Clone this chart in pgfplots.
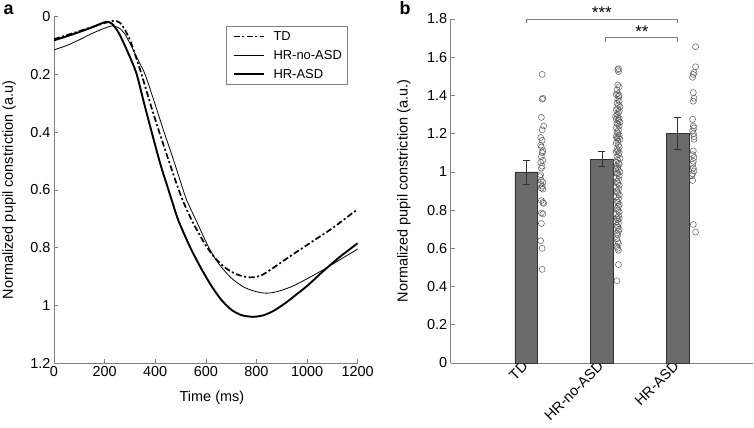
\documentclass[border=0pt]{standalone}
\usepackage{fontspec}
\setmainfont{Liberation Sans}
\usepackage{pgfplots}
\pgfplotsset{compat=1.18}
\definecolor{axgray}{RGB}{128,128,128}
\definecolor{barfill}{RGB}{107,107,107}
\definecolor{baredge}{RGB}{50,50,50}
\definecolor{ptedge}{RGB}{90,90,90}
\pgfplotsset{
  common/.style={
    scale only axis,
    axis x line*=bottom, axis y line*=left,
    axis line style={axgray, line width=0.6bp, -},
    tick align=inside,
    major tick length=4bp,
    tick style={axgray, line width=0.6bp},
    /pgf/number format/assume math mode=true,
    /pgf/number format/set thousands separator={},
    ticklabel style={font=\fontsize{14.5}{16}\selectfont},
    label style={font=\fontsize{14.5}{16}\selectfont},
  }
}
\begin{document}
\begin{tikzpicture}
\useasboundingbox (0,0) rectangle (754bp,428bp);
\node[font=\fontsize{18}{20}\selectfont\bfseries, anchor=base west] at (0bp,413bp) {a};
\node[font=\fontsize{18}{20}\selectfont\bfseries, anchor=base west] at (396bp,413bp) {b};
% ---------------- panel a ----------------
\begin{axis}[common,
  at={(54bp,65bp)}, anchor=south west,
  width=303.7bp, height=346.3bp,
  xmin=0, xmax=1200, ymin=0, ymax=1.2,
  y dir=reverse,
  xtick={0,200,400,600,800,1000,1200},
  ytick={0,0.2,0.4,0.6,0.8,1,1.2},
  yticklabels={0,0.2,0.4,0.6,0.8,1,1.2},
  xlabel={Time (ms)},
  xlabel style={at={(axis description cs:0.52,-0.101)}, anchor=center},
  ylabel={Normalized pupil constriction (a.u)},
  ylabel style={at={(axis description cs:-0.148,0.5)}, anchor=center},
  legend style={at={(0.965,0.973)}, anchor=north east, draw=axgray,
    font=\fontsize{13}{15}\selectfont, row sep=4.5bp, inner sep=3bp},
  legend cell align=left,
]
\addplot[black, line width=1.7bp, dash pattern=on 6bp off 2.5bp on 2bp off 2.5bp, smooth, tension=0.45,
  legend image code/.code={\path (-3bp,0bp) (37bp,0bp); \draw[black, line width=1.7bp, dash pattern=on 6bp off 2.5bp on 2bp off 2.5bp] (0bp,0bp) -- (30bp,0bp);}] coordinates {
(0,0.078) (50,0.064) (100,0.050) (150,0.036) (200,0.022) (238,0.014) (262,0.022) (282,0.048) (302,0.085) (322,0.135) (346,0.200) (380,0.300) (416,0.400) (450,0.490) (480,0.568) (508,0.635) (544,0.705) (575,0.755) (603,0.797) (640,0.840) (680,0.872) (720,0.892) (760,0.902) (790,0.903) (820,0.896) (850,0.880) (900,0.850) (950,0.820) (1000,0.791) (1050,0.762) (1100,0.733) (1150,0.700) (1200,0.667)
};
\addlegendentry{TD}
\addplot[black, line width=0.8bp, smooth, tension=0.45,
  legend image code/.code={\path (-3bp,0bp) (37bp,0bp); \draw[black, line width=0.8bp] (0bp,0bp) -- (30bp,0bp);}] coordinates {
(0,0.115) (50,0.100) (100,0.080) (150,0.058) (200,0.040) (228,0.032) (255,0.038) (280,0.060) (310,0.110) (335,0.155) (360,0.200) (400,0.305) (435,0.400) (470,0.490) (500,0.572) (524,0.635) (561,0.705) (610,0.797) (650,0.855) (700,0.905) (750,0.937) (800,0.953) (840,0.958) (880,0.953) (940,0.935) (1000,0.908) (1066,0.876) (1130,0.842) (1200,0.805)
};
\addlegendentry{HR-no-ASD}
\addplot[black, line width=1.9bp, smooth, tension=0.45,
  legend image code/.code={\path (-3bp,0bp) (37bp,0bp); \draw[black, line width=1.9bp] (0bp,0bp) -- (30bp,0bp);}] coordinates {
(0,0.082) (50,0.068) (100,0.053) (150,0.037) (205,0.018) (230,0.025) (255,0.055) (280,0.100) (305,0.150) (327,0.200) (356,0.300) (386,0.400) (420,0.510) (445,0.580) (465,0.635) (491,0.705) (537,0.797) (580,0.870) (620,0.930) (660,0.980) (700,1.015) (740,1.034) (787,1.040) (830,1.034) (870,1.018) (910,0.995) (950,0.968) (1000,0.933) (1066,0.880) (1130,0.832) (1200,0.785)
};
\addlegendentry{HR-ASD}
\end{axis}
% ---------------- panel b ----------------
\begin{axis}[common,
  at={(450.7bp,65bp)}, anchor=south west,
  width=302.3bp, height=344bp,
  xmin=0, xmax=4, ymin=0, ymax=1.8,
  xtick={1,2,3}, xticklabels={TD,HR-no-ASD,HR-ASD},
  xtick style={draw=none},
  xticklabel style={rotate=45, anchor=east, xshift=2bp},
  ytick={0,0.2,0.4,0.6,0.8,1,1.2,1.4,1.6,1.8},
  yticklabels={0,0.2,0.4,0.6,0.8,1,1.2,1.4,1.6,1.8},
  ylabel={Normalized pupil constriction (a.u.)},
  ylabel style={at={(axis description cs:-0.1545,0.5)}, anchor=center},
  clip=false,
]
\addplot[ybar, bar width=0.3, fill=barfill, draw=baredge, line width=0.5bp] coordinates {(1,1.0) (2,1.065) (3,1.2)};
\addplot[draw=none, mark=none,
  error bars/.cd, y dir=both, y explicit,
  error bar style={baredge, line width=0.6bp},
  error mark options={rotate=90, mark size=3.5bp, baredge, line width=0.6bp}]
  coordinates {(1,1.0) +- (0,0.063) (2,1.07) +- (0,0.039) (3,1.201) +- (0,0.083)};
% TD points
\addplot[only marks, mark=o, mark size=3bp, mark options={draw=ptedge, line width=0.5bp}] table {
x y
1.21 1.51
1.22 1.385
1.21 1.38
1.20 1.285
1.23 1.24
1.21 1.22
1.19 1.18
1.21 1.165
1.19 1.14
1.20 1.13
1.22 1.11
1.21 1.10
1.20 1.08
1.22 1.06
1.19 1.05
1.21 1.03
1.20 1.02
1.19 0.985
1.18 0.975
1.20 0.955
1.22 0.945
1.19 0.935
1.21 0.925
1.20 0.915
1.22 0.91
1.20 0.85
1.22 0.84
1.23 0.835
1.20 0.785
1.22 0.78
1.20 0.73
1.19 0.64
1.21 0.60
1.21 0.49
};
% HR-no-ASD points
\addplot[only marks, mark=o, mark size=3bp, mark options={draw=ptedge, line width=0.5bp}] table {
x y
2.22 1.54
2.21 1.535
2.22 1.525
2.21 1.455
2.23 1.445
2.20 1.43
2.21 1.41
2.19 1.405
2.23 1.40
2.22 1.395
2.21 1.38
2.23 1.37
2.20 1.36
2.22 1.35
2.24 1.34
2.21 1.33
2.19 1.325
2.23 1.32
2.22 1.31
2.20 1.30
2.18 1.29
2.21 1.285
2.23 1.28
2.19 1.275
2.22 1.27
2.24 1.26
2.20 1.255
2.21 1.25
2.23 1.24
2.19 1.23
2.22 1.22
2.20 1.21
2.21 1.20
2.23 1.19
2.19 1.185
2.22 1.18
2.20 1.175
2.24 1.17
2.21 1.16
2.19 1.15
2.22 1.14
2.23 1.13
2.20 1.12
2.21 1.11
2.19 1.105
2.23 1.10
2.22 1.09
2.20 1.08
2.24 1.07
2.21 1.06
2.19 1.05
2.22 1.045
2.23 1.04
2.20 1.03
2.21 1.02
2.18 1.015
2.22 1.01
2.24 1.00
2.20 0.995
2.21 0.99
2.23 0.98
2.19 0.97
2.22 0.96
2.20 0.95
2.21 0.94
2.23 0.93
2.19 0.92
2.22 0.91
2.20 0.90
2.21 0.89
2.23 0.88
2.19 0.87
2.22 0.86
2.20 0.85
2.21 0.84
2.23 0.83
2.22 0.82
2.20 0.81
2.21 0.80
2.23 0.79
2.19 0.78
2.22 0.77
2.20 0.76
2.23 0.755
2.21 0.75
2.19 0.74
2.22 0.73
2.20 0.72
2.21 0.71
2.23 0.70
2.22 0.69
2.20 0.68
2.21 0.67
2.20 0.65
2.21 0.635
2.22 0.625
2.20 0.61
2.21 0.60
2.22 0.59
2.22 0.515
2.20 0.43
};
% HR-ASD points
\addplot[only marks, mark=o, mark size=3bp, mark options={draw=ptedge, line width=0.5bp}] table {
x y
3.24 1.655
3.24 1.55
3.22 1.52
3.21 1.51
3.20 1.495
3.21 1.415
3.22 1.385
3.21 1.37
3.20 1.275
3.21 1.24
3.22 1.23
3.20 1.215
3.21 1.20
3.22 1.185
3.22 1.17
3.21 1.11
3.20 1.09
3.22 1.075
3.21 1.055
3.20 1.04
3.21 1.02
3.22 1.005
3.20 0.99
3.19 0.98
3.20 0.955
3.21 0.725
3.24 0.685
};
\draw[axgray, line width=0.6bp] (axis cs:1,1.778) -- (axis cs:1,1.80) -- (axis cs:3,1.80) -- (axis cs:3,1.778);
\draw[axgray, line width=0.6bp] (axis cs:2.05,1.678) -- (axis cs:2.05,1.702) -- (axis cs:3,1.702) -- (axis cs:3,1.678);
\node[font=\fontsize{17}{19}\selectfont] at (axis cs:2.0,1.835) {***};
\node[font=\fontsize{17}{19}\selectfont] at (axis cs:2.53,1.732) {**};
\end{axis}
\end{tikzpicture}
\end{document}
